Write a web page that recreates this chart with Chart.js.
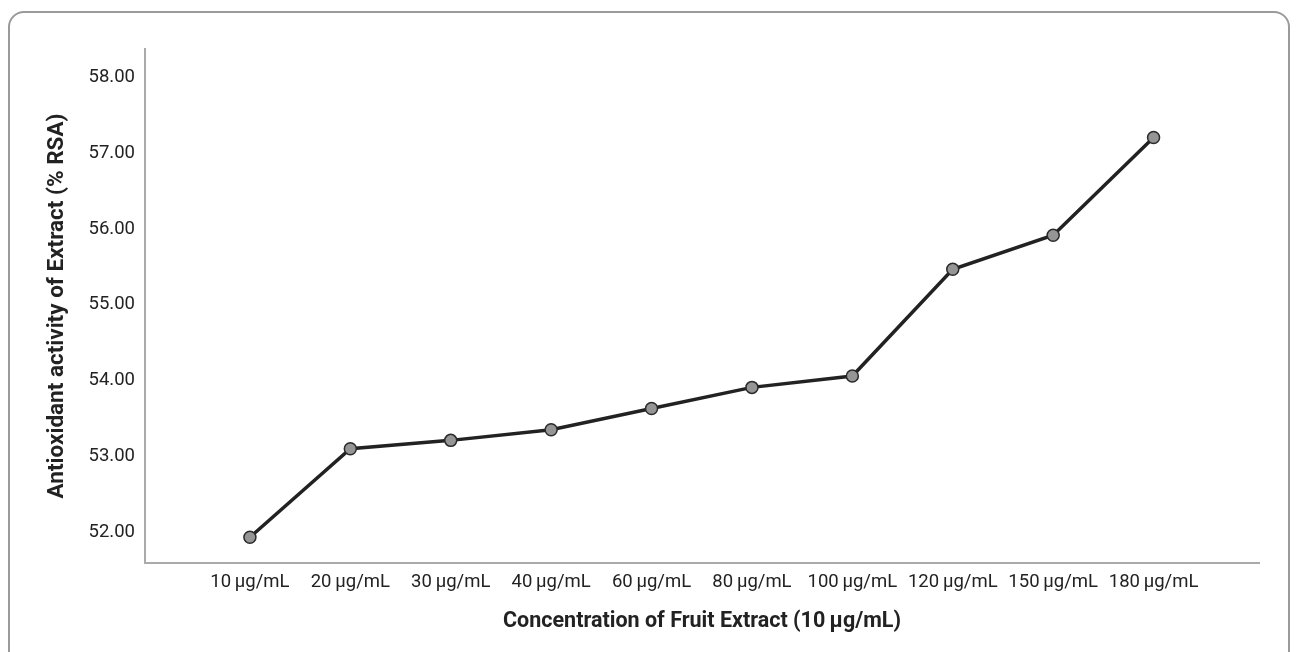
<!DOCTYPE html>
<html>
<head>
<meta charset="utf-8">
<script src="https://cdn.jsdelivr.net/npm/chart.js@4.4.1/dist/chart.umd.min.js"></script>
<style>
  html, body { margin: 0; padding: 0; background: #fff; width: 1296px; height: 652px; overflow: hidden; }
  #frame { position: absolute; left: 8px; top: 11px; width: 1282px; height: 680px; border: 2px solid #9a9a9a; border-radius: 16px; box-sizing: border-box; }
  #wrap { position: absolute; left: 0; top: 0; width: 1296px; height: 652px; }
</style>
</head>
<body>
<div id="frame"></div>
<div id="wrap"><canvas id="c" width="1296" height="652"></canvas></div>
<script>
const categories = ['10\u2009\u00b5g/mL', '20\u2009\u00b5g/mL', '30\u2009\u00b5g/mL', '40\u2009\u00b5g/mL', '60\u2009\u00b5g/mL', '80\u2009\u00b5g/mL', '100\u2009\u00b5g/mL', '120\u2009\u00b5g/mL', '150\u2009\u00b5g/mL', '180\u2009\u00b5g/mL'];
const rsaValues = [51.93, 53.10, 53.21, 53.35, 53.63, 53.91, 54.06, 55.47, 55.92, 57.21];
const yTicks = [52, 53, 54, 55, 56, 57, 58];
const xTitle = 'Concentration of Fruit Extract (10\u2009\u00b5g/mL)';
const yTitle = 'Antioxidant activity of Extract (% RSA)';

const points = rsaValues.map((v, i) => ({ x: i, y: v }));
const FONT = 'Roboto, "Noto Sans", sans-serif';

new Chart(document.getElementById('c'), {
  type: 'line',
  data: {
    datasets: [{
      data: points,
      borderColor: '#222222',
      borderWidth: 3.5,
      pointRadius: 6,
      pointHoverRadius: 6,
      pointBackgroundColor: '#959595',
      pointBorderColor: '#2a2a2a',
      pointBorderWidth: 1.5,
      tension: 0
    }]
  },
  options: {
    responsive: false,
    animation: false,
    events: [],
    layout: { padding: { left: 0, right: 37, top: 49, bottom: 0 } },
    plugins: { legend: { display: false }, tooltip: { enabled: false } },
    scales: {
      x: {
        type: 'linear',
        min: -1.045,
        max: 10.05,
        afterBuildTicks: s => { s.ticks = categories.map((c, i) => ({ value: i })); },
        afterFit: s => { s.height = 89; },
        grid: { display: false, drawTicks: false },
        border: { display: true, color: '#aaaaaa', width: 2 },
        ticks: {
          autoSkip: false, maxRotation: 0, minRotation: 0, padding: 8,
          color: '#222222', font: { family: FONT, size: 18.5 },
          callback: v => categories[v] ?? ''
        },
        title: {
          display: true, text: xTitle, color: '#222222',
          font: { family: FONT, size: 21.5, weight: 'bold' },
          padding: { top: 4, bottom: 17 }
        }
      },
      y: {
        type: 'linear',
        min: 51.59,
        max: 58.38,
        afterBuildTicks: s => { s.ticks = yTicks.map(v => ({ value: v })); },
        afterFit: s => { s.width = 145; },
        grid: { display: false, drawTicks: false },
        border: { display: true, color: '#aaaaaa', width: 2 },
        ticks: {
          padding: 10, color: '#222222', font: { family: FONT, size: 18.5 },
          callback: v => Number(v).toFixed(2)
        },
        title: {
          display: true, text: yTitle, color: '#222222',
          font: { family: FONT, size: 22.5, weight: 'bold' },
          padding: { top: 44, bottom: 0 }
        }
      }
    }
  }
});
</script>
</body>
</html>
